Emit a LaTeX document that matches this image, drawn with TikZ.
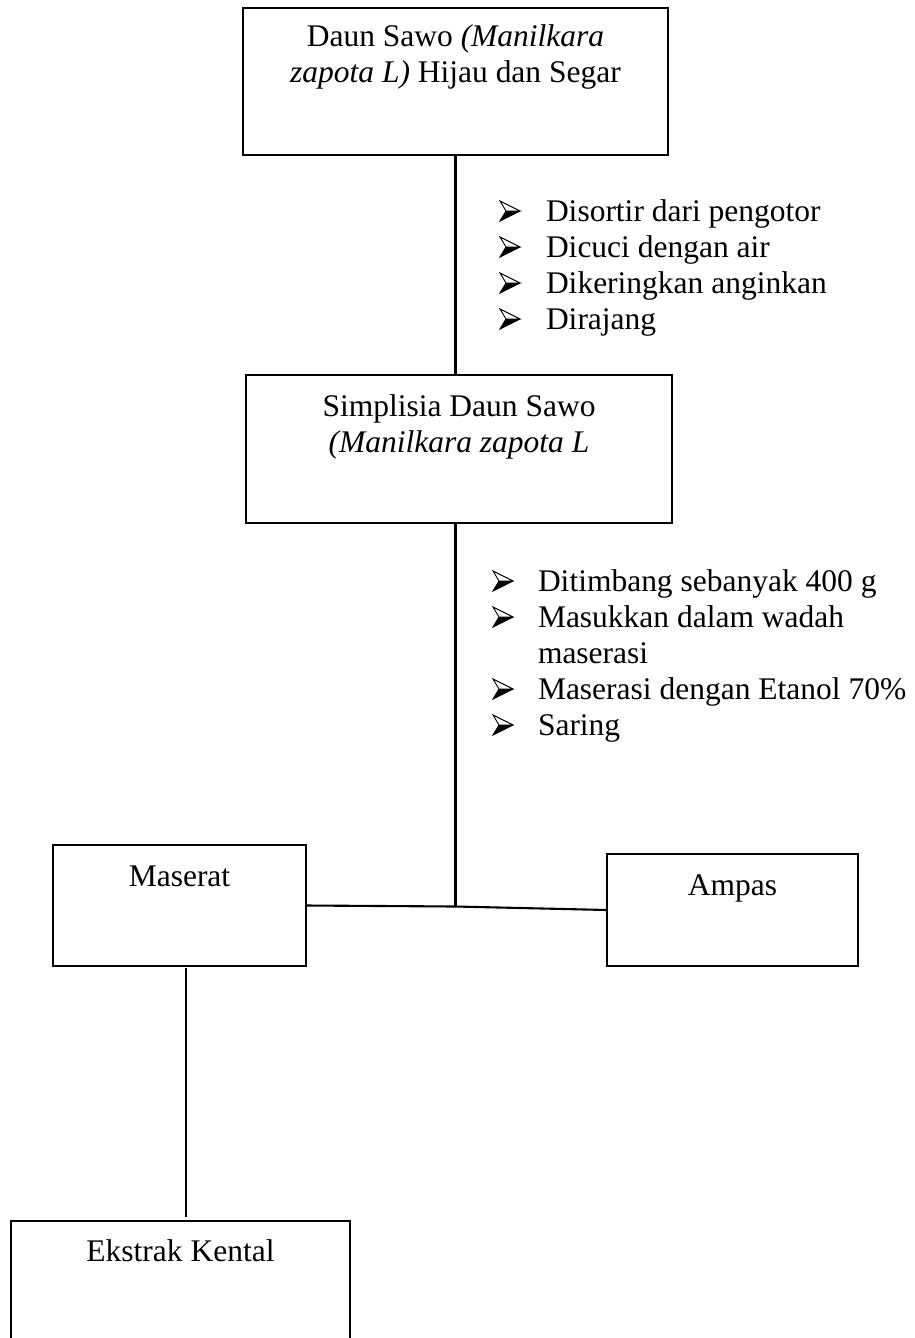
\documentclass[tikz,border=0pt]{standalone}
\usepackage{fontspec}
\setmainfont{Liberation Serif}
\usetikzlibrary{fit}
\tikzset{
  txt/.style={font=\fontsize{12pt}{13.8pt}\selectfont, inner sep=0pt, outer sep=0pt},
  boxnode/.style={draw, line width=0.5pt, inner sep=0pt, outer sep=0pt},
  conn/.style={line width=0.8pt},
  bul/.pic={
    \fill (6,0) -- (20,0) -- (0,10) -- cycle;
    \draw[line width=0.35pt, line join=miter] (0,-10) -- (20,0) -- (6,0) -- cycle;
    \draw[line width=0.35pt, line join=miter] (6,0) -- (0,10) -- (20,0);
  }
}
\begin{document}
\begin{tikzpicture}[x=0.381pt, y=-0.381pt]
\useasboundingbox (0,0) rectangle (915,1338);
\clip (0,0) rectangle (915,1338);
\fill[white] (0,0) rectangle (915,1338);

% Box 1
\node[boxnode, fit={(243,8) (668,155)}] (b1) {};
\node[txt, anchor=base] (t1a) at (455.5,46) {Daun Sawo \textit{(Manilkara}};
\node[txt, anchor=base] (t1b) at (455.5,82) {\textit{zapota L)} Hijau dan Segar};

% List 1
\pic at (500,211) {bul};
\pic at (500,247) {bul};
\pic at (500,283) {bul};
\pic at (500,319) {bul};
\node[txt, anchor=base west] (l1a) at (546,221) {Disortir dari pengotor};
\node[txt, anchor=base west] (l1b) at (546,257) {Dicuci dengan air};
\node[txt, anchor=base west] (l1c) at (546,293) {Dikeringkan anginkan};
\node[txt, anchor=base west] (l1d) at (546,329) {Dirajang};

% Box 2
\node[boxnode, fit={(246,375) (672,523)}] (b2) {};
\node[txt, anchor=base] (t2a) at (459,416) {Simplisia Daun Sawo};
\node[txt, anchor=base] (t2b) at (459,452) {\textit{(Manilkara zapota L}};

% List 2
\pic at (493,581) {bul};
\pic at (493,617) {bul};
\pic at (493,689) {bul};
\pic at (493,725) {bul};
\node[txt, anchor=base west] (l2a) at (538,591) {Ditimbang sebanyak 400 g};
\node[txt, anchor=base west] (l2b) at (538,627) {Masukkan dalam wadah};
\node[txt, anchor=base west] (l2c) at (538,663) {maserasi};
\node[txt, anchor=base west] (l2d) at (538,699) {Maserasi dengan Etanol 70\%};
\node[txt, anchor=base west] (l2e) at (538,735) {Saring};

% Maserat / Ampas
\node[boxnode, fit={(53,845) (306,966)}] (mas) {};
\node[txt, anchor=base] (tmas) at (179.5,886) {Maserat};
\node[boxnode, fit={(607,854) (858,966)}] (amp) {};
\node[txt, anchor=base] (tamp) at (732.5,895) {Ampas};

% Ekstrak Kental
\node[boxnode, fit={(11,1221) (350,1400)}] (eks) {};
\node[txt, anchor=base] (teks) at (180.5,1261) {Ekstrak Kental};

\coordinate (j) at (455.5,906.5);

% Connectors
\draw[conn] (b1.south) -- (b1.south |- b2.north);
\draw[conn] (b1.south |- b2.south) -- (j);
\draw[conn] (mas.east) -- (j) -- (amp.west);
\draw[conn, shorten <=0.8pt, shorten >=1.5pt] ([xshift=2.5pt]mas.south) -- ([xshift=2.5pt]mas.south |- eks.north);
\end{tikzpicture}
\end{document}
